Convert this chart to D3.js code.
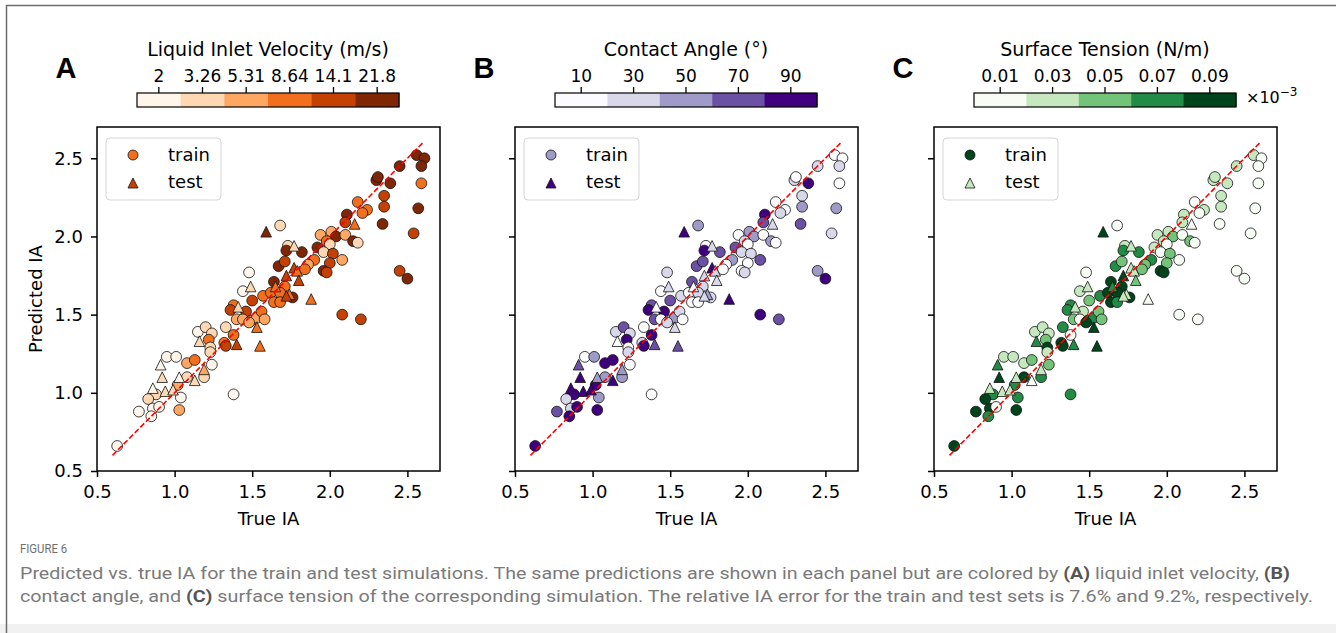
<!DOCTYPE html>
<html>
<head>
<meta charset="utf-8">
<script src="https://cdn.jsdelivr.net/npm/d3@7"></script>
<style>
body { margin: 0; background: #fff; }
svg text { font-family: "DejaVu Sans", sans-serif; fill: #000; }
</style>
</head>
<body>
<svg id="fig" width="1336" height="633"></svg>
<script>
// true / predicted interfacial area
var trueIA = [2.56,2.61,2.59,2.45,2.59,2.30,2.31,2.39,2.35,2.35,
  2.57,2.34,2.54,2.18,2.24,2.21,2.11,2.10,2.16,1.68,
  1.59,2.01,1.94,2.04,2.10,2.15,2.18,1.98,2.00,1.73,
  1.77,1.72,1.82,1.92,1.96,2.02,2.08,2.00,1.90,1.86,
  1.67,1.71,1.77,1.79,1.84,1.96,1.98,1.48,1.72,1.64,
  1.80,1.49,1.44,1.65,1.71,1.57,1.62,1.68,1.74,1.76,
  1.50,1.64,1.68,1.72,1.88,1.38,1.36,1.41,1.46,1.40,
  1.44,1.49,1.53,1.56,1.58,1.53,1.48,2.08,2.20,2.45,
  2.50,1.33,1.15,1.20,1.24,1.22,1.16,1.23,1.23,1.32,
  1.38,1.40,1.33,1.55,0.95,1.01,1.08,1.13,0.91,1.24,
  1.19,1.19,0.92,1.03,1.08,1.13,0.86,0.94,0.99,1.02,
  0.88,0.83,1.04,0.86,0.90,1.03,0.77,0.85,1.38,0.63];

var predIA = [2.52,2.50,2.45,2.45,2.34,2.36,2.38,2.34,2.26,2.19,
  2.18,2.08,2.02,2.22,2.17,2.15,2.14,2.09,2.08,2.07,
  2.03,2.03,2.01,2.00,2.01,1.97,1.96,1.97,1.95,1.94,
  1.94,1.91,1.90,1.93,1.90,1.89,1.85,1.83,1.85,1.82,
  1.81,1.84,1.80,1.78,1.79,1.78,1.77,1.77,1.75,1.71,
  1.72,1.68,1.65,1.68,1.68,1.62,1.64,1.64,1.63,1.61,
  1.59,1.58,1.58,1.62,1.60,1.56,1.53,1.55,1.52,1.47,
  1.47,1.46,1.48,1.52,1.47,1.42,1.45,1.50,1.47,1.78,
  1.73,1.42,1.39,1.42,1.38,1.34,1.33,1.29,1.26,1.32,
  1.37,1.31,1.30,1.30,1.23,1.23,1.19,1.21,1.18,1.18,
  1.15,1.10,1.10,1.10,1.10,1.08,1.03,1.01,1.02,1.05,
  0.99,0.96,0.97,0.90,0.91,0.89,0.88,0.85,0.99,0.66];

// 1 = test simulation, 0 = train simulation
var testSet = [0,0,0,0,0,0,0,0,0,0, 0,0,0,0,0,0,0,0,1,0,
  1,0,0,0,0,0,0,0,0,0, 1,0,0,0,0,0,0,0,0,0,
  0,0,1,1,0,0,0,0,1,0, 1,1,0,1,0,0,0,0,1,0,
  0,0,0,1,1,0,0,1,0,0, 0,0,0,0,0,1,0,0,0,0,
  0,0,0,0,0,0,1,0,0,0, 0,1,0,1,0,0,0,0,1,0,
  1,0,1,1,0,1,1,1,1,0, 0,0,0,0,0,0,0,0,0,0];

// colour variables of each simulation
var velocity = [21.8,21.8,21.8,21.8,8.64,21.8,21.8,21.8,14.1,14.1,
  21.8,21.8,14.1,8.64,8.64,8.64,21.8,14.1,8.64,3.26,
  21.8,5.31,5.31,21.8,5.31,21.8,3.26,8.64,3.26,3.26,
  3.26,21.8,21.8,21.8,3.26,14.1,5.31,14.1,8.64,5.31,
  21.8,14.1,14.1,8.64,8.64,21.8,14.1,2,14.1,21.8,
  14.1,3.26,2,8.64,8.64,8.64,8.64,8.64,8.64,21.8,
  14.1,8.64,8.64,14.1,8.64,8.64,14.1,3.26,14.1,5.31,
  5.31,5.31,5.31,8.64,5.31,8.64,5.31,14.1,14.1,14.1,
  21.8,3.26,2,3.26,3.26,8.64,3.26,3.26,3.26,8.64,
  8.64,14.1,14.1,8.64,2,2,5.31,8.64,2,2,
  5.31,3.26,3.26,2,3.26,3.26,2,3.26,3.26,5.31,
  3.26,3.26,2,2,2,5.31,2,2,2,2];

var angle = [10,10,30,30,10,30,10,90,30,50,
  50,70,30,10,10,30,90,70,30,50,
  90,50,10,50,10,50,10,30,10,10,
  30,90,70,70,30,30,70,10,50,10,
  70,70,90,30,10,10,30,30,30,70,
  30,30,10,10,30,30,10,30,50,30,
  70,10,10,30,90,70,90,10,90,70,
  10,30,50,30,10,30,30,90,70,50,
  90,10,30,70,30,90,10,10,30,30,
  90,70,90,70,10,50,90,90,70,10,
  50,50,90,50,50,90,90,90,90,90,
  90,30,50,30,90,90,70,90,10,90];

// surface tension in units of 1e-3 N/m
var tension = [0.03,0.01,0.01,0.03,0.01,0.03,0.03,0.03,0.03,0.03,
  0.01,0.01,0.01,0.01,0.03,0.01,0.03,0.03,0.01,0.01,
  0.09,0.03,0.03,0.05,0.01,0.05,0.01,0.03,0.01,0.03,
  0.03,0.07,0.07,0.03,0.01,0.05,0.01,0.05,0.07,0.05,
  0.07,0.05,0.03,0.03,0.05,0.09,0.09,0.01,0.09,0.09,
  0.05,0.03,0.03,0.07,0.09,0.07,0.09,0.09,0.03,0.09,
  0.05,0.09,0.07,0.03,0.01,0.07,0.07,0.03,0.03,0.05,
  0.01,0.07,0.07,0.05,0.05,0.09,0.09,0.01,0.01,0.01,
  0.01,0.07,0.03,0.03,0.03,0.05,0.07,0.09,0.03,0.09,
  0.01,0.07,0.09,0.09,0.03,0.03,0.03,0.05,0.07,0.05,
  0.03,0.07,0.09,0.03,0.09,0.01,0.03,0.03,0.03,0.07,
  0.07,0.09,0.07,0.09,0.01,0.09,0.09,0.07,0.07,0.09];

// colorbar ticks
var velTicks = [2, 3.26, 5.31, 8.64, 14.1, 21.8];
var angleTicks = [10, 30, 50, 70, 90];
var tensionTicks = [0.01, 0.03, 0.05, 0.07, 0.09];
var axisTicks = [0.5, 1.0, 1.5, 2.0, 2.5];

var svg = d3.select("#fig");

// figure frame
svg.append("rect").attr("x", 0).attr("y", 624).attr("width", 1336).attr("height", 9).attr("fill", "#f1f1f1");
svg.append("path").attr("d", "M6.5,633 V5.5 H1336").attr("fill", "none").attr("stroke", "#6e6e6e").attr("stroke-width", 1.5);

var pw = 343, ph = 344, plotTop = 127;
var x = d3.scaleLinear().domain([0.5, 2.71]).range([0, pw]);
var y = d3.scaleLinear().domain([0.5, 2.70]).range([ph, 0]);

function cmap(ticks, interp) {
  return d3.scaleOrdinal()
    .domain(ticks)
    .range(ticks.map(function(d, i) { return interp(i / (ticks.length - 1)); }));
}

var panels = [
  { letter: "A", left: 97, title: "Liquid Inlet Velocity (m/s)", ticks: velTicks, values: velocity,
    color: cmap(velTicks, d3.interpolateOranges), legend: [8.64, 14.1], fmt: function(d) { return d; } },
  { letter: "B", left: 515, title: "Contact Angle (°)", ticks: angleTicks, values: angle,
    color: cmap(angleTicks, d3.interpolatePurples), legend: [50, 90], fmt: function(d) { return d; } },
  { letter: "C", left: 934, title: "Surface Tension (N/m)", ticks: tensionTicks, values: tension,
    color: cmap(tensionTicks, d3.interpolateGreens), legend: [0.09, 0.03], fmt: d3.format(".2f") }
];

var pts = trueIA.map(function(d, i) { return { t: d, p: predIA[i], test: testSet[i], i: i }; });
// train first, test drawn on top
pts.sort(function(a, b) { return a.test - b.test; });

var tri = "M0,-5.3L5.3,5.3L-5.3,5.3Z";
var circ = d3.symbol().type(d3.symbolCircle).size(Math.PI * 5.4 * 5.4)();

panels.forEach(function(P, k) {
  var g = svg.append("g").attr("transform", "translate(" + P.left + "," + plotTop + ")");

  // colorbar
  var cb = svg.append("g").attr("transform", "translate(" + (P.left + 40) + ",93)");
  var band = d3.scaleBand().domain(P.ticks).range([0, 262]);
  cb.selectAll("rect.seg")
    .data(P.ticks)
    .enter().append("rect")
      .attr("class", "seg")
      .attr("x", function(d) { return band(d); })
      .attr("width", band.bandwidth() + 0.5)
      .attr("height", 14)
      .attr("fill", function(d) { return P.color(d); });
  cb.append("rect").attr("width", 262).attr("height", 14).attr("fill", "none").attr("stroke", "#000").attr("stroke-width", 1.2);
  var cbAxis = d3.axisTop(band).tickSize(6).tickPadding(5).tickFormat(P.fmt);
  cb.append("g").call(cbAxis)
    .call(function(a) { a.select(".domain").remove(); })
    .selectAll("text").style("font-size", "17px");
  cb.selectAll(".tick line").attr("stroke-width", 1.3);
  cb.append("text")
    .attr("x", 131).attr("y", -37)
    .attr("text-anchor", "middle")
    .style("font-size", "19px")
    .text(P.title);
  if (P.letter == "C") {
    cb.append("text")
      .attr("x", 272).attr("y", 10)
      .style("font-size", "16px")
      .html("×10<tspan dy='-7' style='font-size:12px'>−3</tspan>");
  }

  // panel letter
  svg.append("text")
    .attr("x", P.left - 31).attr("y", 78)
    .attr("text-anchor", "middle")
    .style("font-family", "'Liberation Sans', Arial, sans-serif")
    .style("font-weight", "bold")
    .style("font-size", "29px")
    .text(P.letter);

  // axes
  var xa = g.append("g").attr("transform", "translate(0," + ph + ")")
    .call(d3.axisBottom(x).tickValues(axisTicks).tickFormat(d3.format(".1f")).tickSize(6).tickPadding(8));
  var ya = g.append("g")
    .call(d3.axisLeft(y).tickValues(axisTicks).tickFormat(k == 0 ? d3.format(".1f") : "").tickSize(6).tickPadding(8));
  [xa, ya].forEach(function(a) {
    a.select(".domain").remove();
    a.selectAll("line").attr("stroke-width", 1.5);
    a.selectAll("text").style("font-size", "18px");
  });

  g.append("text")
    .attr("x", pw / 2).attr("y", ph + 54)
    .attr("text-anchor", "middle")
    .style("font-size", "18px")
    .text("True IA");
  if (k == 0) {
    g.append("text")
      .attr("transform", "translate(-55," + (ph / 2) + ") rotate(-90)")
      .attr("text-anchor", "middle")
      .style("font-size", "18px")
      .text("Predicted IA");
  }

  // points
  g.selectAll("path.pt")
    .data(pts)
    .enter().append("path")
      .attr("class", "pt")
      .attr("d", function(d) { return d.test ? tri : circ; })
      .attr("transform", function(d) { return "translate(" + x(d.t) + "," + y(d.p) + ")"; })
      .attr("fill", function(d) { return P.color(P.values[d.i]); })
      .attr("stroke", "#111")
      .attr("stroke-width", 0.8);

  // identity line
  g.append("line")
    .attr("x1", x(0.6)).attr("y1", y(0.6))
    .attr("x2", x(2.6)).attr("y2", y(2.6))
    .attr("stroke", "#ff0000")
    .attr("stroke-width", 1.6)
    .attr("stroke-dasharray", "5.5,2.4");

  // frame
  g.append("rect").attr("width", pw).attr("height", ph)
    .attr("fill", "none").attr("stroke", "#000").attr("stroke-width", 1.5);

  // legend
  var lg = g.append("g").attr("transform", "translate(9,11)");
  lg.append("rect").attr("width", 115).attr("height", 62).attr("rx", 4)
    .attr("fill", "#fff").attr("fill-opacity", 0.8)
    .attr("stroke", "#d5d5d5").attr("stroke-width", 1);
  lg.append("circle").attr("cx", 27).attr("cy", 17).attr("r", 5)
    .attr("fill", P.color(P.legend[0])).attr("stroke", "#111").attr("stroke-width", 0.8);
  lg.append("path").attr("d", "M0,-5L5,5L-5,5Z").attr("transform", "translate(27,45)")
    .attr("fill", P.color(P.legend[1])).attr("stroke", "#111").attr("stroke-width", 0.8);
  lg.append("text").attr("x", 62).attr("y", 23).style("font-size", "18px").text("train");
  lg.append("text").attr("x", 62).attr("y", 50).style("font-size", "18px").text("test");
});

// caption
var cap = svg.append("g").style("font-family", "'Liberation Sans Narrow', 'Roboto', sans-serif");
cap.append("text").attr("x", 20).attr("y", 553)
  .attr("textLength", 47).attr("lengthAdjust", "spacingAndGlyphs")
  .style("font-size", "12px").style("fill", "#6f6f6f").style("font-family", "inherit")
  .text("FIGURE 6");

var line1 = [["Predicted vs. true IA for the train and test simulations. The same predictions are shown in each panel but are colored by ", 0],
  ["(A)", 1], [" liquid inlet velocity, ", 0], ["(B)", 1]];
var line2 = [["contact angle, and ", 0], ["(C)", 1],
  [" surface tension of the corresponding simulation. The relative IA error for the train and test sets is 7.6% and 9.2%, respectively.", 0]];

[[line1, 579, 1270], [line2, 602, 1293]].forEach(function(L) {
  var t = cap.append("text").attr("x", 20).attr("y", L[1])
    .attr("textLength", L[2]).attr("lengthAdjust", "spacingAndGlyphs")
    .style("font-size", "17px").style("fill", "#7a7a7a").style("font-family", "inherit");
  t.selectAll("tspan").data(L[0]).enter().append("tspan")
    .style("font-weight", function(d) { return d[1] ? "bold" : "normal"; })
    .style("fill", function(d) { return d[1] ? "#555" : "#7a7a7a"; })
    .text(function(d) { return d[0]; });
});
</script>
</body>
</html>
